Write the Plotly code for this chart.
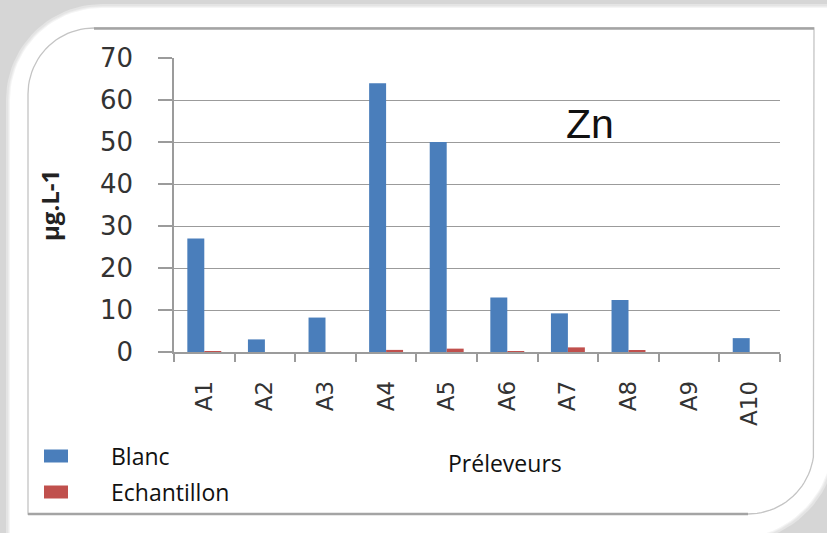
import numpy as np
import plotly.graph_objects as go

# --- data -----------------------------------------------------------------
preleveurs = ["A1", "A2", "A3", "A4", "A5", "A6", "A7", "A8", "A9", "A10"]
blanc = [27, 3, 8.2, 64, 50, 13, 9.2, 12.4, 0, 3.3]
echantillon = [0.15, 0, 0, 0.5, 0.8, 0.05, 1.1, 0.4, 0, 0]
series_names = ["Blanc", "Echantillon"]
series_colors = ["#4a7ebb", "#c0504d"]
y_ticks = [0, 10, 20, 30, 40, 50, 60, 70]

# --- page geometry (pixels) -------------------------------------------------
W, H = 827, 533
PLOT_L, PLOT_R, PLOT_T, PLOT_B = 174, 780, 58, 352


def arc_pts(cx, cy, r, a0, a1, n=24):
    a = np.linspace(a0, a1, n)
    return [(cx + r * np.cos(t), cy + r * np.sin(t)) for t in a]


def rounded_pts(x0, y0, x1, y1, r_tl, r_br):
    """Rectangle outline with rounded top-left and bottom-right corners."""
    pts = arc_pts(x0 + r_tl, y0 + r_tl, r_tl, np.pi, 1.5 * np.pi)
    pts += [(x1, y0), (x1, y1 - r_br)]
    pts += arc_pts(x1 - r_br, y1 - r_br, r_br, 0, 0.5 * np.pi)
    pts += [(x0, y1), pts[0]]
    return pts


def page_line(pts, color, width, fill=None, axes=("x", "y")):
    xs, ys = zip(*pts)
    return go.Scatter(x=xs, y=ys, mode="lines", xaxis=axes[0], yaxis=axes[1],
                      line=dict(color=color, width=width),
                      fill="toself" if fill else None, fillcolor=fill,
                      hoverinfo="skip", showlegend=False)


fig = go.Figure()

# card background: soft shadow rings then the white card (page-pixel axes x/y)
for grow, col in [(4, "#e4e4e4"), (2, "#ececec"), (1, "#f5f5f5")]:
    fig.add_trace(page_line(rounded_pts(10 - grow, 8 - grow, 833 + grow, 539 + grow,
                                        92 + grow, 100 + grow), col, 0, fill=col))
fig.add_trace(page_line(rounded_pts(10, 8, 833, 539, 92, 100), "white", 0, fill="white"))

# bars on the chart axes x2/y2
for name, vals, col in zip(series_names, [blanc, echantillon], series_colors):
    fig.add_trace(go.Bar(x=preleveurs, y=vals, name=name, marker_color=col,
                         marker_line_width=0, xaxis="x2", yaxis="y2",
                         showlegend=False))

# inner frame on its own full-page overlay (x3/y3), drawn last
R = 66
frame_axes = ("x3", "y3")
fig.add_trace(page_line(rounded_pts(28, 28, 814, 514, R, R), "#c4c4c4", 1.3,
                        axes=frame_axes))
fig.add_trace(page_line([(28 + R, 28.5), (814, 28.5)], "#a4a4a4", 2.5, axes=frame_axes))
fig.add_trace(page_line([(28, 514), (814 - R, 514)], "#a4a4a4", 2.5, axes=frame_axes))

# legend swatches and labels
shapes, annotations = [], []
for i, (name, col) in enumerate(zip(series_names, series_colors)):
    yc = 456 + i * 36
    shapes.append(dict(type="rect", xref="x", yref="y", layer="above",
                       x0=44, x1=68, y0=yc - 6.5, y1=yc + 6.5,
                       fillcolor=col, line=dict(width=0)))
    annotations.append(dict(text=name, xref="x", yref="y", x=109, y=yc,
                            xanchor="left", yanchor="middle", showarrow=False,
                            font=dict(family="Open Sans", size=23, color="#111")))

annotations += [
    dict(text="Zn", xref="x", yref="y", x=590, y=124,
         xanchor="center", yanchor="middle", showarrow=False,
         font=dict(family="Liberation Sans", size=41, color="#111")),
    dict(text="Préleveurs", xref="x", yref="y", x=505, y=463,
         xanchor="center", yanchor="middle", showarrow=False,
         font=dict(family="Open Sans", size=23, color="#111")),
    dict(text="<b>µg.L-1</b>", xref="x", yref="y", x=49, y=206,
         xanchor="center", yanchor="middle", showarrow=False, textangle=-90,
         font=dict(family="Open Sans", size=24, color="#222")),
]

axis_gray = "#9b9b9b"
page_x = dict(domain=[0, 1], range=[0, W], visible=False, fixedrange=True,
              automargin=False)
page_y = dict(domain=[0, 1], range=[H, 0], visible=False, fixedrange=True,
              automargin=False)
fig.update_layout(
    width=W, height=H,
    margin=dict(l=0, r=0, t=0, b=0, pad=0, autoexpand=False),
    paper_bgcolor="#d6d6d6", plot_bgcolor="rgba(0,0,0,0)",
    barmode="group", bargap=0.44, bargroupgap=0, showlegend=False,
    shapes=shapes, annotations=annotations,
    # full-page pixel axes for the card and for the frame overlay
    xaxis=page_x, yaxis=page_y,
    xaxis3=dict(page_x, anchor="y3"), yaxis3=dict(page_y, anchor="x3"),
    # chart axes
    xaxis2=dict(domain=[PLOT_L / W, PLOT_R / W], anchor="y2", automargin=False,
                type="category", tickangle=-90, tickson="boundaries",
                ticks="outside", ticklen=8, tickwidth=1.5, tickcolor=axis_gray,
                showline=True, linecolor=axis_gray, linewidth=1.5,
                showgrid=False, ticklabelstandoff=18,
                tickfont=dict(family="DejaVu Sans", size=23, color="#333")),
    yaxis2=dict(domain=[1 - PLOT_B / H, 1 - PLOT_T / H], anchor="x2", automargin=False,
                range=[0, 70], tickvals=y_ticks, ticks="outside", ticklen=14,
                tickwidth=1.5, tickcolor=axis_gray,
                showline=True, linecolor=axis_gray, linewidth=1.5,
                showgrid=True, gridcolor=axis_gray, gridwidth=1.3,
                zeroline=False, ticklabelstandoff=20,
                tickfont=dict(family="DejaVu Sans", size=26, color="#333")),
)

fig.write_html("out.html")
